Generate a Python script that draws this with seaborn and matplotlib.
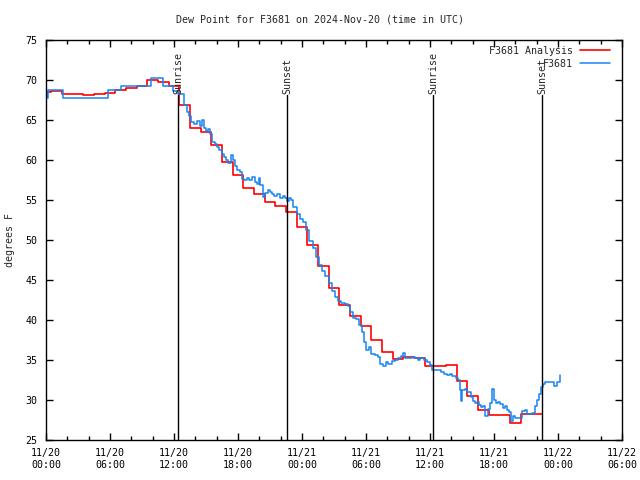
import numpy as np
import pandas as pd
import matplotlib
matplotlib.use('Agg')
import matplotlib.pyplot as plt
import matplotlib.dates as mdates
import matplotlib.transforms as mtransforms
import seaborn as sns

# hourly analysis values (hours since 2024-11-20 00:00 UTC)
ana_hours = list(range(47)) + [46.5]
ana_dew = [68.5, 68.6, 68.3, 68.3, 68.1, 68.3, 68.4, 68.75, 69.0, 69.2,
           70.0, 69.8, 69.2, 66.9, 64.0, 63.5, 61.9, 59.8, 58.1, 56.5,
           55.7, 54.7, 54.25, 53.5, 51.6, 49.4, 46.75, 44.0, 41.9, 40.5,
           39.3, 37.5, 36.0, 35.1, 35.4, 35.2, 34.3, 34.3, 34.4, 32.4,
           30.5, 28.8, 28.1, 28.1, 27.1, 28.2, 28.2, 28.2]

# station observations
obs_hours = [0.0, 0.1, 0.2, 1.6, 5.8, 7.0, 9.85, 11.0, 11.9, 12.4,
             12.9, 13.2, 13.4, 13.6, 13.9, 14.2, 14.4, 14.6, 14.8, 15.0,
             15.2, 15.4, 15.6, 15.8, 16.0, 16.2, 16.5, 16.7, 16.9, 17.1,
             17.3, 17.5, 17.7, 17.9, 18.2, 18.4, 18.6, 18.8, 19.0, 19.3,
             19.6, 19.8, 20.0, 20.1, 20.3, 20.5, 20.8, 21.0, 21.2, 21.4,
             21.7, 21.9, 22.2, 22.4, 22.6, 22.8, 23.0, 23.2, 23.5, 23.8,
             24.1, 24.4, 24.7, 25.0, 25.3, 25.6, 25.9, 26.2, 26.5, 26.8,
             27.1, 27.4, 27.7, 28.0, 28.3, 28.5, 28.8, 29.1, 29.3, 29.6,
             29.8, 30.0, 30.3, 30.5, 30.8, 31.1, 31.3, 31.6, 31.9, 32.1,
             32.4, 32.7, 33.0, 33.3, 33.5, 33.7, 34.0, 34.3, 34.6, 34.9,
             35.1, 35.4, 35.7, 36.0, 36.2, 36.5, 36.8, 37.0, 37.3, 37.6,
             37.9, 38.1, 38.4, 38.6, 38.8, 38.9, 39.0, 39.3, 39.5, 39.8,
             40.0, 40.2, 40.4, 40.6, 40.8, 41.0, 41.2, 41.4, 41.6, 41.8,
             42.0, 42.2, 42.4, 42.6, 42.8, 43.0, 43.2, 43.4, 43.6, 43.8,
             44.0, 44.3, 44.6, 44.9, 45.1, 45.4, 45.6, 45.8, 46.0, 46.2,
             46.4, 46.6, 46.8, 47.2, 47.6, 47.9, 48.2]
obs_dew = [68.5, 67.7, 68.8, 67.8, 68.8, 69.25, 70.2, 69.25, 68.6, 68.3,
           66.9, 66.0, 65.5, 64.8, 64.5, 64.9, 64.2, 65.0, 64.0, 63.6,
           63.9, 63.2, 62.3, 62.0, 61.6, 61.3, 60.8, 60.4, 60.0, 59.6,
           60.6, 60.0, 59.3, 58.8, 58.5, 57.6, 57.5, 57.8, 57.5, 57.9,
           57.3, 57.0, 57.8, 56.9, 55.4, 55.9, 56.3, 56.0, 55.7, 55.5,
           55.7, 55.2, 55.5, 55.3, 54.9, 55.3, 55.0, 54.1, 53.2, 52.6,
           52.2, 51.3, 49.9, 49.0, 47.9, 46.9, 46.1, 45.5, 44.6, 43.6,
           42.9, 42.4, 42.1, 42.0, 41.8, 41.0, 40.2, 40.1, 39.4, 38.5,
           37.3, 36.3, 36.6, 35.8, 35.6, 35.4, 34.5, 34.2, 34.8, 34.5,
           34.9, 35.0, 35.25, 35.5, 35.9, 35.3, 35.2, 35.4, 35.3, 35.0,
           35.2, 35.0, 34.8, 34.4, 33.8, 33.7, 33.8, 33.5, 33.3, 33.1,
           33.3, 33.0, 32.8, 32.5, 31.3, 29.9, 31.2, 31.4, 31.0, 30.4,
           29.9, 29.6, 29.8, 29.4, 29.1, 29.3, 28.0, 28.9, 29.6, 31.4,
           30.0, 29.6, 29.8, 29.5, 29.0, 29.3, 28.8, 28.5, 27.4, 28.0,
           27.7, 27.8, 28.6, 28.8, 28.3, 28.2, 28.4, 29.2, 30.0, 30.8,
           31.6, 32.0, 32.2, 32.3, 31.8, 32.3, 33.1]

sun_hours = [12.37, 22.6, 36.28, 46.5]
sun_labels = ['Sunrise', 'Sunset', 'Sunrise', 'Sunset']

start = pd.Timestamp('2024-11-20 00:00')
ana = pd.DataFrame({'time': start + pd.to_timedelta(ana_hours, unit='h'), 'dewpt': ana_dew})
obs = pd.DataFrame({'time': start + pd.to_timedelta(obs_hours, unit='h'), 'dewpt': obs_dew})

sns.set_style('ticks')
plt.rcParams['font.family'] = ['DejaVu Sans Mono']
plt.rcParams['font.size'] = 7.2

fig = plt.figure(figsize=(6.4, 4.8), dpi=100)
ax = fig.add_axes([46/640, 40/480, 576/640, 400/480])

sns.lineplot(data=ana, x='time', y='dewpt', ax=ax, color='#ff0000', lw=1.2,
             drawstyle='steps-mid', label='F3681 Analysis')
sns.lineplot(data=obs, x='time', y='dewpt', ax=ax, color='#1784f0', lw=1.1,
             drawstyle='steps-post', label='F3681')

trans = mtransforms.blended_transform_factory(ax.transData, ax.transAxes)
for h, lab in zip(sun_hours, sun_labels):
    t = start + pd.Timedelta(hours=h)
    ax.axvline(t, ymin=0, ymax=0.862, color='black', lw=1)
    ax.text(t, 0.866, lab, rotation=90, transform=trans, ha='center', va='bottom', fontsize=7.2)

ax.set_xlim(start, start + pd.Timedelta(hours=54))
ax.set_ylim(25, 75)
ax.set_yticks(np.arange(25, 76, 5))
ax.xaxis.set_major_locator(mdates.HourLocator(byhour=[0, 6, 12, 18]))
ax.xaxis.set_minor_locator(mdates.HourLocator(byhour=range(0, 24, 2)))
ax.xaxis.set_major_formatter(mdates.DateFormatter('%m/%d\n%H:%M'))
ax.tick_params(which='both', direction='in', top=True, right=True, colors='black', width=1)
ax.tick_params(which='major', length=5, labelsize=7.2, pad=6)
ax.tick_params(which='minor', length=3)
ax.set_xlabel('')
ax.set_ylabel('')
for s in ax.spines.values():
    s.set_color('black')
    s.set_linewidth(1)

ax.legend(loc='upper right', frameon=False, markerfirst=False, fontsize=7.2,
          handlelength=3, handletextpad=0.7, labelspacing=0.3,
          bbox_to_anchor=(0.99, 1.0), borderaxespad=0.2)

fig.text(0.5, 1 - 20/480, 'Dew Point for F3681 on 2024-Nov-20 (time in UTC)', ha='center', va='center', fontsize=7.2)
fig.text(10/640, 0.5, 'degrees F', rotation=90, ha='center', va='center', fontsize=7.2)

fig.savefig('out.png', dpi=100)
